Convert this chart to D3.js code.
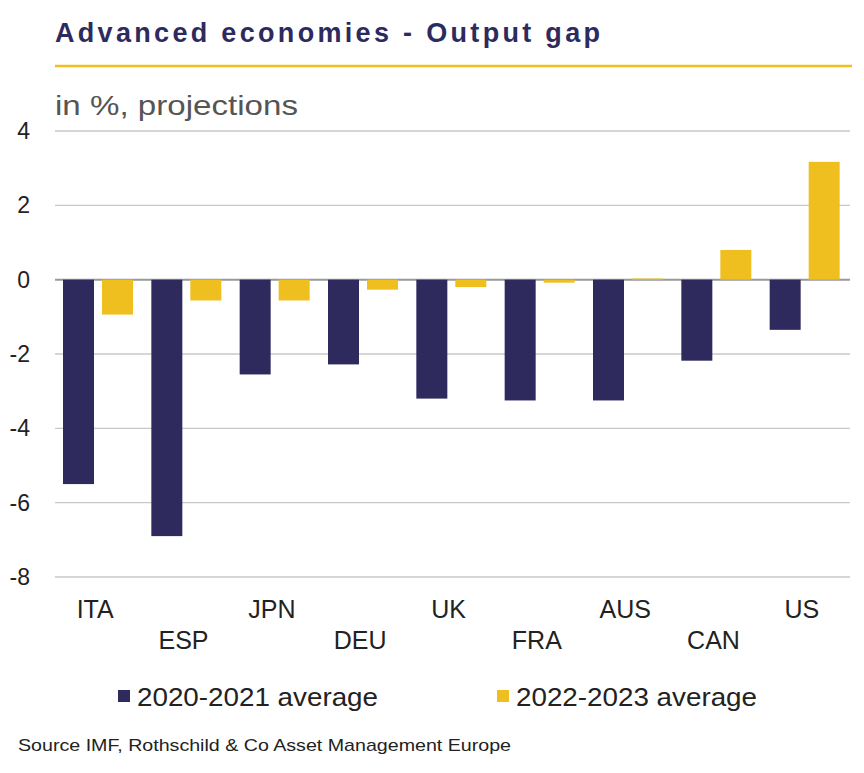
<!DOCTYPE html>
<html><head><meta charset="utf-8">
<script src="https://cdn.jsdelivr.net/npm/d3@7"></script>
<style>body{margin:0;background:#fff;font-family:"Liberation Sans",Arial,sans-serif}</style>
</head><body>
<script>
// data
var countries = ["ITA","ESP","JPN","DEU","UK","FRA","AUS","CAN","US"];
var avg2021   = [-5.5,-6.9,-2.55,-2.28,-3.2,-3.25,-3.25,-2.18,-1.35];
var avg2023   = [-0.94,-0.56,-0.56,-0.27,-0.2,-0.08,0.03,0.8,3.17];
var yTicks    = [4,2,0,-2,-4,-6,-8];
var seriesNames = ["2020-2021 average","2022-2023 average"];
var colors = ["#2e2a5e","#efbf1f"];

var width = 864, height = 773;
var svg = d3.select("body").append("svg").attr("width",width).attr("height",height);

svg.append("text").attr("x",55).attr("y",42).attr("font-size",27).attr("font-weight","bold")
  .attr("fill","#2e2a5e").attr("textLength",545).attr("lengthAdjust","spacing").text("Advanced economies - Output gap");
svg.append("line").attr("x1",55).attr("x2",852).attr("y1",66).attr("y2",66)
  .attr("stroke","#efbf1f").attr("stroke-width",2.5);
svg.append("text").attr("x",55).attr("y",115).attr("font-size",28).attr("fill","#555")
  .attr("textLength",243).attr("lengthAdjust","spacingAndGlyphs").text("in %, projections");

var x = d3.scaleBand().domain(countries).range([55,850]);
var y = d3.scaleLinear().domain([-8,4]).range([577,131]);

svg.append("g").selectAll("line").data(yTicks).enter().append("line")
  .attr("x1",55).attr("x2",850).attr("y1",function(d){return y(d);}).attr("y2",function(d){return y(d);})
  .attr("stroke",function(d){return d===0?"#999":"#c8c8c8";}).attr("stroke-width",function(d){return d===0?2:1.3;});
svg.append("g").selectAll("text").data(yTicks).enter().append("text")
  .attr("x",30).attr("y",function(d){return y(d)+8;}).attr("text-anchor","end")
  .attr("font-size",23).attr("fill","#222").text(function(d){return d;});

var bw = 31;
[avg2021,avg2023].forEach(function(vals,s){
  svg.append("g").selectAll("rect").data(vals).enter().append("rect")
    .attr("x",function(d,i){return x(countries[i])+8+s*(bw+8);})
    .attr("width",bw)
    .attr("y",function(d){return y(Math.max(0,d));})
    .attr("height",function(d){return Math.abs(y(d)-y(0));})
    .attr("fill",colors[s]);
});

svg.append("g").selectAll("text").data(countries).enter().append("text")
  .attr("x",function(d){return x(d)+x.bandwidth()/2-4;})
  .attr("y",function(d,i){return i%2===0?618:649;})
  .attr("text-anchor","middle").attr("font-size",25).attr("fill","#222").text(function(d){return d;});

var lg = [ {x:118}, {x:497} ];
seriesNames.forEach(function(n,i){
  svg.append("rect").attr("x",lg[i].x).attr("y",690).attr("width",12).attr("height",12).attr("fill",colors[i]);
  svg.append("text").attr("x",lg[i].x+19).attr("y",706).attr("font-size",25).attr("fill","#222")
    .attr("textLength",241).attr("lengthAdjust","spacingAndGlyphs").text(n);
});
svg.append("text").attr("x",18).attr("y",751).attr("font-size",17).attr("fill","#222")
  .attr("textLength",493).attr("lengthAdjust","spacingAndGlyphs").text("Source IMF, Rothschild & Co Asset Management Europe");
</script>
</body></html>
